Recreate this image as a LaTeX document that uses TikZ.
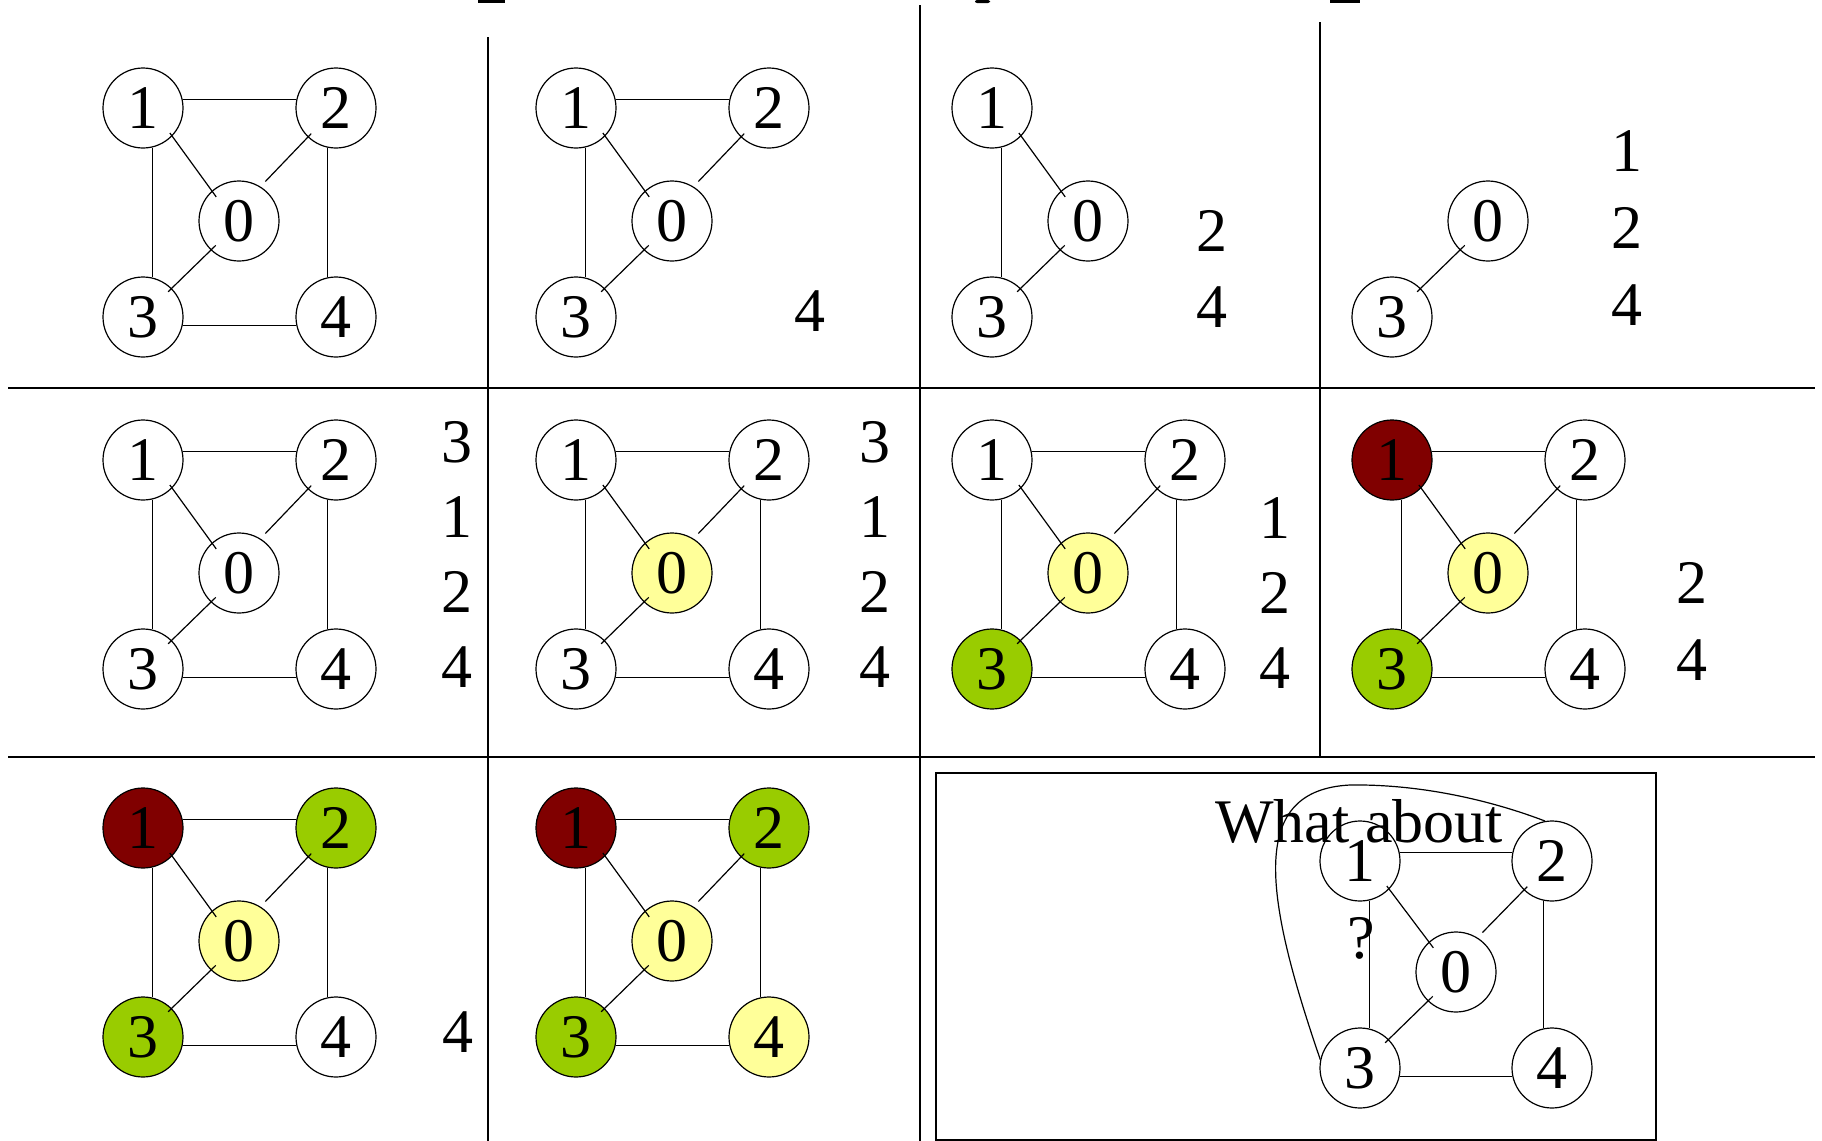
\documentclass[tikz,border=0pt]{standalone}
\usepackage{fontspec}
\setmainfont{Liberation Serif}
\usetikzlibrary{positioning}

\definecolor{maroon}{RGB}{128,0,0}
\definecolor{leaf}{RGB}{153,204,0}
\definecolor{cream}{RGB}{255,255,153}

\begin{document}
\begin{tikzpicture}[x=0.5pt,y=-0.5pt,on grid,
  vtx/.style={circle,draw,fill=white,minimum size=40pt,inner sep=0pt,line width=0.6pt,font=\fontsize{31}{37}\selectfont},
  num/.style={inner sep=0pt,font=\fontsize{31}{37}\selectfont},
  ln/.style={line width=0.6pt},
  rule/.style={line width=0.9pt},
  d10/.style={shorten <=-2pt,shorten >=-3.75pt},
  d20/.style={shorten <=-2.5pt,shorten >=3.5pt},
  d30/.style={shorten <=-2.5pt,shorten >=-3.5pt}]

\useasboundingbox (0,0) rectangle (1822,1141);

% what is left of the heading
\fill (478,0) rectangle (505,2.5);
\fill[rounded corners=1pt] (975,0) rectangle (990,3);
\fill (1330,0) rectangle (1360,2.5);

% table lines
\draw[rule] (8,388) -- (1815,388);
\draw[rule] (8,757) -- (1815,757);
\draw[rule] (488,37) -- (488,1141);
\draw[rule] (920,5) -- (920,1141);
\draw[rule] (1320,22) -- (1320,757);
\draw[rule] (936,773) rectangle (1656,1140);

% row 1
\node[vtx] (a1) at (143,108) {1};
\node[vtx,right=96.5pt of a1] (a2) {2};
\node[vtx,below right=56.5pt and 48pt of a1] (a0) {0};
\node[vtx,below=104.5pt of a1] (a3) {3};
\node[vtx,right=96.5pt of a3] (a4) {4};
\path[ln] (a1.12) edge (a2.168) (a1.-77) edge (a3.77) (a2.-102) edge (a4.102) (a3.-12) edge (a4.-168)
  (a1.-44) edge[d10] (a0.132) (a2.-134) edge[d20] (a0.58) (a3.45) edge[d30] (a0.-134);

\node[vtx] (b1) at (576,108) {1};
\node[vtx,right=96.5pt of b1] (b2) {2};
\node[vtx,below right=56.5pt and 48pt of b1] (b0) {0};
\node[vtx,below=104.5pt of b1] (b3) {3};
\path[ln] (b1.12) edge (b2.168) (b1.-77) edge (b3.77)
  (b1.-44) edge[d10] (b0.132) (b2.-134) edge[d20] (b0.58) (b3.45) edge[d30] (b0.-134);
\node[num] (bl4) at (810,311) {4};

\node[vtx] (c1) at (992,108) {1};
\node[vtx,below right=56.5pt and 48pt of c1] (c0) {0};
\node[vtx,below=104.5pt of c1] (c3) {3};
\path[ln] (c1.-77) edge (c3.77) (c1.-44) edge[d10] (c0.132) (c3.45) edge[d30] (c0.-134);
\node[num] (cl2) at (1212,231) {2};
\node[num,below=38pt of cl2] (cl4) {4};

\node[vtx] (d3) at (1392,317) {3};
\node[vtx,above right=48pt and 48pt of d3] (d0) {0};
\path[ln] (d3.45) edge[d30] (d0.-134);
\node[num] (dl1) at (1627,151) {1};
\node[num,below=38.5pt of dl1] (dl2) {2};
\node[num,below=38.5pt of dl2] (dl4) {4};

% row 2
\node[vtx] (e1) at (143,460) {1};
\node[vtx,right=96.5pt of e1] (e2) {2};
\node[vtx,below right=56.5pt and 48pt of e1] (e0) {0};
\node[vtx,below=104.5pt of e1] (e3) {3};
\node[vtx,right=96.5pt of e3] (e4) {4};
\path[ln] (e1.12) edge (e2.168) (e1.-77) edge (e3.77) (e2.-102) edge (e4.102) (e3.-12) edge (e4.-168)
  (e1.-44) edge[d10] (e0.132) (e2.-134) edge[d20] (e0.58) (e3.45) edge[d30] (e0.-134);
\node[num] (el3) at (457,442) {3};
\node[num,below=37.5pt of el3] (el1) {1};
\node[num,below=37.5pt of el1] (el2) {2};
\node[num,below=37.5pt of el2] (el4) {4};

\node[vtx] (f1) at (576,460) {1};
\node[vtx,right=96.5pt of f1] (f2) {2};
\node[vtx,fill=cream,below right=56.5pt and 48pt of f1] (f0) {0};
\node[vtx,below=104.5pt of f1] (f3) {3};
\node[vtx,right=96.5pt of f3] (f4) {4};
\path[ln] (f1.12) edge (f2.168) (f1.-77) edge (f3.77) (f2.-102) edge (f4.102) (f3.-12) edge (f4.-168)
  (f1.-44) edge[d10] (f0.132) (f2.-134) edge[d20] (f0.58) (f3.45) edge[d30] (f0.-134);
\node[num] (fl3) at (875,442) {3};
\node[num,below=37.5pt of fl3] (fl1) {1};
\node[num,below=37.5pt of fl1] (fl2) {2};
\node[num,below=37.5pt of fl2] (fl4) {4};

\node[vtx] (g1) at (992,460) {1};
\node[vtx,right=96.5pt of g1] (g2) {2};
\node[vtx,fill=cream,below right=56.5pt and 48pt of g1] (g0) {0};
\node[vtx,fill=leaf,below=104.5pt of g1] (g3) {3};
\node[vtx,right=96.5pt of g3] (g4) {4};
\path[ln] (g1.12) edge (g2.168) (g1.-77) edge (g3.77) (g2.-102) edge (g4.102) (g3.-12) edge (g4.-168)
  (g1.-44) edge[d10] (g0.132) (g2.-134) edge[d20] (g0.58) (g3.45) edge[d30] (g0.-134);
\node[num] (gl1) at (1275,518) {1};
\node[num,below=37.5pt of gl1] (gl2) {2};
\node[num,below=37.5pt of gl2] (gl4) {4};

\node[vtx,fill=maroon] (h1) at (1392,460) {1};
\node[vtx,right=96.5pt of h1] (h2) {2};
\node[vtx,fill=cream,below right=56.5pt and 48pt of h1] (h0) {0};
\node[vtx,fill=leaf,below=104.5pt of h1] (h3) {3};
\node[vtx,right=96.5pt of h3] (h4) {4};
\path[ln] (h1.12) edge (h2.168) (h1.-77) edge (h3.77) (h2.-102) edge (h4.102) (h3.-12) edge (h4.-168)
  (h1.-44) edge[d10] (h0.132) (h2.-134) edge[d20] (h0.58) (h3.45) edge[d30] (h0.-134);
\node[num] (hl2) at (1692,583) {2};
\node[num,below=38.5pt of hl2] (hl4) {4};

% row 3
\node[vtx,fill=maroon] (i1) at (143,828) {1};
\node[vtx,fill=leaf,right=96.5pt of i1] (i2) {2};
\node[vtx,fill=cream,below right=56.5pt and 48pt of i1] (i0) {0};
\node[vtx,fill=leaf,below=104.5pt of i1] (i3) {3};
\node[vtx,right=96.5pt of i3] (i4) {4};
\path[ln] (i1.12) edge (i2.168) (i1.-77) edge (i3.77) (i2.-102) edge (i4.102) (i3.-12) edge (i4.-168)
  (i1.-44) edge[d10] (i0.132) (i2.-134) edge[d20] (i0.58) (i3.45) edge[d30] (i0.-134);
\node[num] (il4) at (458,1032) {4};

\node[vtx,fill=maroon] (j1) at (576,828) {1};
\node[vtx,fill=leaf,right=96.5pt of j1] (j2) {2};
\node[vtx,fill=cream,below right=56.5pt and 48pt of j1] (j0) {0};
\node[vtx,fill=leaf,below=104.5pt of j1] (j3) {3};
\node[vtx,fill=cream,right=96.5pt of j3] (j4) {4};
\path[ln] (j1.12) edge (j2.168) (j1.-77) edge (j3.77) (j2.-102) edge (j4.102) (j3.-12) edge (j4.-168)
  (j1.-44) edge[d10] (j0.132) (j2.-134) edge[d20] (j0.58) (j3.45) edge[d30] (j0.-134);

% the boxed question
\node[vtx] (k1) at (1360,861) {1};
\node[vtx,right=96pt of k1] (k2) {2};
\node[vtx,below right=55.5pt and 48pt of k1] (k0) {0};
\node[vtx,below=103.5pt of k1] (k3) {3};
\node[vtx,right=96pt of k3] (k4) {4};
\path[ln] (k1.12) edge (k2.168) (k1.-77) edge (k3.77) (k2.-102) edge (k4.102) (k3.-12) edge (k4.-168)
  (k1.-44) edge[d10] (k0.132) (k2.-134) edge[d20] (k0.58) (k3.45) edge[d30] (k0.-134);
\node[num,anchor=base] (ask) at (1359,842) {What about};
\node[num,anchor=base] (qm) at (1361,958) {?};
\draw[ln] (k3.168) .. controls (1262,890) and (1250,790) .. (1350,785)
  .. controls (1420,784) and (1490,800) .. (k2.100);

\end{tikzpicture}
\end{document}
